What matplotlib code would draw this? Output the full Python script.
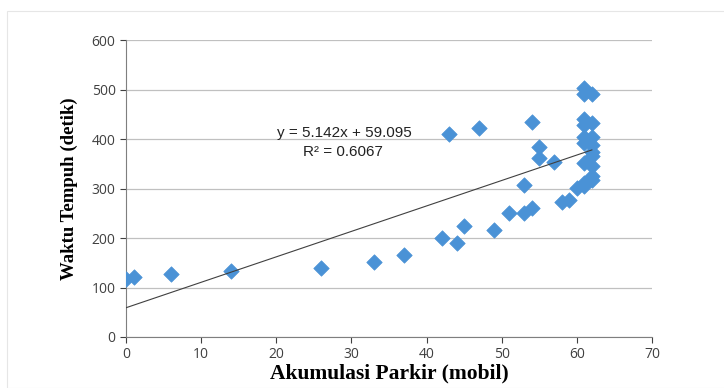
import numpy as np
import matplotlib.pyplot as plt
from matplotlib.patches import Rectangle

# akumulasi parkir (mobil) vs waktu tempuh (detik)
akumulasi = [0, 1, 6, 14, 26, 33, 37, 42, 44, 45, 43, 47, 49, 51, 53, 53, 54, 54, 55, 55,
             57, 58, 59, 60, 61, 61, 61, 61, 61, 61, 61, 61, 61,
             62, 62, 62, 62, 62, 62, 62, 62, 62]
waktu = [117, 121, 127, 133, 139, 152, 166, 200, 190, 224, 410, 422, 216, 250, 250, 307, 260, 434, 384, 362,
         354, 273, 277, 301, 503, 490, 440, 428, 404, 392, 352, 312, 306,
         490, 432, 404, 388, 374, 366, 346, 325, 318]

slope = 5.142
intercept = 59.095
r2 = 0.6067

x_ticks = [0, 10, 20, 30, 40, 50, 60, 70]
y_ticks = [0, 100, 200, 300, 400, 500, 600]

fig = plt.figure(figsize=(7.24, 3.88), dpi=100)
ax = fig.add_axes([126/724, 51/388, 526/724, 297/388])

# faint outer chart frame
fig.patches.append(Rectangle((7/724, 0), 1.0, 1 - 11/388, transform=fig.transFigure,
                             fill=False, edgecolor='#e6e6e6', lw=0.8))

ax.scatter(akumulasi, waktu, marker='D', s=62, color='#4a92d6', edgecolors='#4a92d6',
           linewidths=0.5, zorder=3)

xs = np.array([0, max(akumulasi)])
ax.plot(xs, slope * xs + intercept, color='#404040', lw=0.8, zorder=4)

ax.text(29.0, 412, 'y = 5.142x + 59.095', fontsize=11, family='Liberation Sans',
        ha='center', va='center', color='#222222')
ax.text(28.9, 373, 'R² = %.4f' % r2, fontsize=11, family='Liberation Sans',
        ha='center', va='center', color='#222222')

ax.set_xlim(0, 70)
ax.set_ylim(0, 600)
ax.set_xticks(x_ticks)
ax.set_yticks(y_ticks)
ax.tick_params(labelsize=10, colors='#404040', length=4, width=0.8)
for lab in ax.get_xticklabels() + ax.get_yticklabels():
    lab.set_family('Open Sans')
ax.grid(axis='y', color='#c0c0c0', lw=0.9)
ax.set_axisbelow(True)
for s in ['top', 'right']:
    ax.spines[s].set_visible(False)
ax.spines['left'].set_color('#7f7f7f')
ax.spines['bottom'].set_color('#7f7f7f')

ax.set_xlabel('Akumulasi Parkir (mobil)', family='Liberation Serif', fontweight='bold',
              fontsize=15.5, labelpad=1)
ax.set_ylabel('Waktu Tempuh (detik)', family='Liberation Serif', fontweight='bold',
              fontsize=13.5, labelpad=10)

fig.savefig('out.png', dpi=100)
